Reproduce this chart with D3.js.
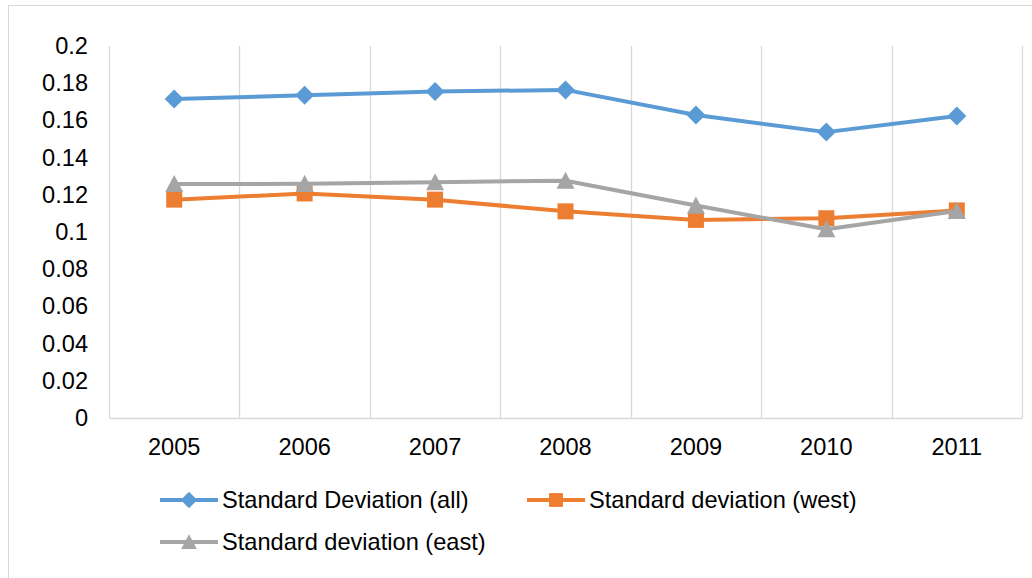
<!DOCTYPE html>
<html>
<head>
<meta charset="utf-8">
<script src="https://cdn.jsdelivr.net/npm/d3@7"></script>
<style>
  body { margin: 0; background: #fff; }
  svg { display: block; font-family: "Liberation Sans", Arial, sans-serif; }
</style>
</head>
<body>
<div id="chart-area"></div>
<script>
// chart data
var years = ['2005', '2006', '2007', '2008', '2009', '2010', '2011'];
var sdAll  = [0.1715, 0.1735, 0.1755, 0.1764, 0.1629, 0.1537, 0.1624];
var sdWest = [0.1174, 0.1207, 0.1174, 0.1111, 0.1065, 0.1074, 0.1116];
var sdEast = [0.1258, 0.1259, 0.1268, 0.1276, 0.1142, 0.1015, 0.1113];
var yTicks = [0, 0.02, 0.04, 0.06, 0.08, 0.1, 0.12, 0.14, 0.16, 0.18, 0.2];
var seriesNames = ['Standard Deviation (all)', 'Standard deviation (west)', 'Standard deviation (east)'];

var W = 1032, H = 578;
var plot = { left: 109, right: 1022, top: 46, bottom: 418 };
var fontSize = '23.6px';

var svg = d3.select('#chart-area')
    .append('svg')
    .attr('width', W)
    .attr('height', H);

// outer chart border
svg.append('rect')
    .attr('x', 8.5).attr('y', 5.5)
    .attr('width', W + 10).attr('height', H + 10)
    .attr('fill', 'none')
    .attr('stroke', '#d9d9d9');

var x = d3.scaleBand()
    .domain(years)
    .range([plot.left, plot.right]);

var y = d3.scaleLinear()
    .domain([0, 0.2])
    .range([plot.bottom, plot.top]);

// vertical gridlines on category boundaries
var bounds = years.map(d => x(d)).concat([plot.right]);
svg.append('g')
    .selectAll('line')
    .data(bounds)
    .enter()
    .append('line')
    .attr('x1', d => Math.round(d) + 0.5)
    .attr('x2', d => Math.round(d) + 0.5)
    .attr('y1', plot.top)
    .attr('y2', plot.bottom)
    .attr('stroke', '#d9d9d9')
    .attr('stroke-width', 1.3);

// x axis
var xAxis = svg.append('g')
    .attr('class', 'x-axis')
    .attr('transform', `translate(0, ${plot.bottom})`)
    .call(d3.axisBottom(x).tickSize(0).tickPadding(20));
xAxis.select('.domain').attr('stroke', '#d9d9d9').attr('stroke-width', 1.3);
xAxis.selectAll('text')
    .attr('font-size', fontSize)
    .attr('fill', '#000');

// y axis (labels only)
var yAxis = svg.append('g')
    .attr('class', 'y-axis')
    .attr('transform', `translate(${plot.left}, 0)`)
    .call(d3.axisLeft(y).tickValues(yTicks).tickSize(0).tickPadding(21).tickFormat(d => String(d)));
yAxis.select('.domain').remove();
yAxis.selectAll('text')
    .attr('font-size', fontSize)
    .attr('fill', '#000');

// marker shapes like the office chart ones (size = box edge squared)
var diamond = {
    draw: function (ctx, size) {
        var r = Math.sqrt(size) / 2;
        ctx.moveTo(0, -r); ctx.lineTo(r, 0); ctx.lineTo(0, r); ctx.lineTo(-r, 0); ctx.closePath();
    }
};
var square = {
    draw: function (ctx, size) {
        var r = Math.sqrt(size) / 2;
        ctx.rect(-r, -r, 2 * r, 2 * r);
    }
};
var triangle = {
    draw: function (ctx, size) {
        var r = Math.sqrt(size) / 2;
        ctx.moveTo(0, -r); ctx.lineTo(r, r * 0.9); ctx.lineTo(-r, r * 0.9); ctx.closePath();
    }
};

var colors = ['#5b9bd5', '#ed7d31', '#a5a5a5'];
var symbols = [diamond, square, triangle];
var symSizes = [19 * 19, 16 * 16, 18 * 18];
var allSeries = [sdAll, sdWest, sdEast];

var line = d3.line()
    .x((d, i) => x(years[i]) + x.bandwidth() / 2)
    .y(d => y(d));

allSeries.forEach((vals, s) => {
    var g = svg.append('g').attr('class', 'series');
    g.append('path')
        .datum(vals)
        .attr('d', line)
        .attr('fill', 'none')
        .attr('stroke', colors[s])
        .attr('stroke-width', 4)
        .attr('stroke-linejoin', 'round');

    g.selectAll('path.marker')
        .data(vals)
        .enter()
        .append('path')
        .attr('class', 'marker')
        .attr('d', d3.symbol().type(symbols[s]).size(symSizes[s]))
        .attr('transform', (d, i) => `translate(${x(years[i]) + x.bandwidth() / 2}, ${y(d)})`)
        .attr('fill', colors[s]);
});

// legend
var legendPos = [[160, 500], [527, 500], [160, 542]];
seriesNames.forEach((name, s) => {
    var lg = svg.append('g')
        .attr('transform', `translate(${legendPos[s][0]}, ${legendPos[s][1]})`);
    lg.append('line')
        .attr('x1', 0).attr('x2', 58)
        .attr('stroke', colors[s])
        .attr('stroke-width', 4);
    lg.append('path')
        .attr('d', d3.symbol().type(symbols[s]).size(symSizes[s] * 0.75))
        .attr('transform', 'translate(29, 0)')
        .attr('fill', colors[s]);
    lg.append('text')
        .attr('x', 62)
        .attr('y', 8)
        .attr('font-size', fontSize)
        .attr('fill', '#000')
        .text(name);
});
</script>
</body>
</html>
